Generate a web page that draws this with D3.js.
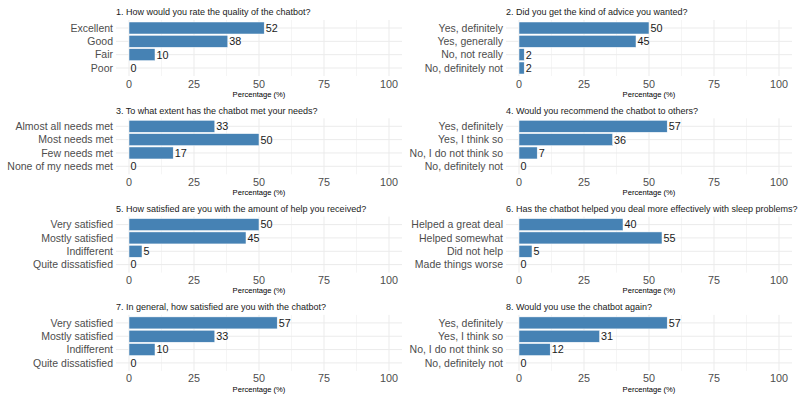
<!DOCTYPE html>
<html>
<head>
<meta charset="utf-8">
<script src="https://cdn.jsdelivr.net/npm/d3@7"></script>
<style>
  body { margin: 0; background: #fff; }
  svg { display: block; font-family: "Liberation Sans", Arial, Helvetica, sans-serif; }
</style>
</head>
<body>
<svg id="chart"></svg>
<script>
// survey questions, answer options and percentages
const questions = [
  "1. How would you rate the quality of the chatbot?",
  "2. Did you get the kind of advice you wanted?",
  "3. To what extent has the chatbot met your needs?",
  "4. Would you recommend the chatbot to others?",
  "5. How satisfied are you with the amount of help you received?",
  "6. Has the chatbot helped you deal more effectively with sleep problems?",
  "7. In general, how satisfied are you with the chatbot?",
  "8. Would you use the chatbot again?"
];

const answers = [
  ["Excellent", "Good", "Fair", "Poor"],
  ["Yes, definitely", "Yes, generally", "No, not really", "No, definitely not"],
  ["Almost all needs met", "Most needs met", "Few needs met", "None of my needs met"],
  ["Yes, definitely", "Yes, I think so", "No, I do not think so", "No, definitely not"],
  ["Very satisfied", "Mostly satisfied", "Indifferent", "Quite dissatisfied"],
  ["Helped a great deal", "Helped somewhat", "Did not help", "Made things worse"],
  ["Very satisfied", "Mostly satisfied", "Indifferent", "Quite dissatisfied"],
  ["Yes, definitely", "Yes, I think so", "No, I do not think so", "No, definitely not"]
];

const percentages = [
  [52, 38, 10, 0],
  [50, 45, 2, 2],
  [33, 50, 17, 0],
  [57, 36, 7, 0],
  [50, 45, 5, 0],
  [40, 55, 5, 0],
  [57, 33, 10, 0],
  [57, 31, 12, 0]
];

const xTicks = [0, 25, 50, 75, 100];
const xMinor = [12.5, 37.5, 62.5, 87.5];
const axisTitle = "Percentage (%)";

const width = 800, height = 400;
const svg = d3.select("#chart").attr("width", width).attr("height", height);

// facet layout: 2 columns x 4 rows
const colLeft = [116, 506];
const panelW = 286;
const rowStep = 98.3;
const firstTop = 20;
const panelH = 56;
const barColor = "steelblue";
const gridColor = "#ebebeb";

questions.forEach((q, i) => {
  const col = i % 2, row = Math.floor(i / 2);
  const left = colLeft[col];
  const top = firstTop + row * rowStep;

  const x = d3.scaleLinear().domain([-5, 105]).range([left, left + panelW]);
  const y = d3.scaleBand()
    .domain(answers[i])
    .range([top, top + panelH])
    .paddingInner(0.1)
    .paddingOuter(0.15);

  const g = svg.append("g");

  // minor gridlines
  g.selectAll(".minor")
    .data(xMinor)
    .enter().append("line")
      .attr("x1", d => x(d)).attr("x2", d => x(d))
      .attr("y1", top).attr("y2", top + panelH)
      .attr("stroke", gridColor).attr("stroke-width", 0.5);

  // major gridlines
  g.selectAll(".major")
    .data(xTicks)
    .enter().append("line")
      .attr("x1", d => x(d)).attr("x2", d => x(d))
      .attr("y1", top).attr("y2", top + panelH)
      .attr("stroke", gridColor).attr("stroke-width", 1);

  g.selectAll(".hgrid")
    .data(answers[i])
    .enter().append("line")
      .attr("x1", left).attr("x2", left + panelW)
      .attr("y1", d => y(d) + y.bandwidth() / 2)
      .attr("y2", d => y(d) + y.bandwidth() / 2)
      .attr("stroke", gridColor).attr("stroke-width", 1);

  // bars
  const vals = answers[i].map((a, j) => ({answer: a, value: percentages[i][j]}));
  g.selectAll("rect")
    .data(vals)
    .enter().append("rect")
      .attr("x", x(0))
      .attr("y", d => y(d.answer))
      .attr("width", d => x(d.value) - x(0))
      .attr("height", y.bandwidth())
      .attr("fill", barColor)
      .attr("stroke", "#ffffff")
      .attr("stroke-width", 0.5);

  // value labels
  g.selectAll(".val")
    .data(vals)
    .enter().append("text")
      .attr("x", d => x(d.value) + 1.5)
      .attr("y", d => y(d.answer) + y.bandwidth() / 2)
      .attr("dy", "0.36em")
      .attr("font-size", "10.8px")
      .attr("fill", "#1a1a1a")
      .text(d => d.value);

  // y tick labels
  g.selectAll(".ylab")
    .data(answers[i])
    .enter().append("text")
      .attr("x", left - 3)
      .attr("y", d => y(d) + y.bandwidth() / 2)
      .attr("dy", "0.36em")
      .attr("text-anchor", "end")
      .attr("font-size", "10.5px")
      .attr("fill", "#4d4d4d")
      .text(d => d);

  // x tick labels
  g.selectAll(".xlab")
    .data(xTicks)
    .enter().append("text")
      .attr("x", d => x(d))
      .attr("y", top + panelH + 11.5)
      .attr("text-anchor", "middle")
      .attr("font-size", "10.8px")
      .attr("fill", "#4d4d4d")
      .text(d => d);

  // axis title
  g.append("text")
    .attr("x", left + panelW / 2)
    .attr("y", top + panelH + 20.7)
    .attr("text-anchor", "middle")
    .attr("font-size", "7.6px")
    .attr("fill", "#000")
    .text(axisTitle);

  // facet title
  g.append("text")
    .attr("x", left)
    .attr("y", top - 4.7)
    .attr("font-size", "9px")
    .attr("fill", "#1a1a1a")
    .text(q);
});
</script>
</body>
</html>
